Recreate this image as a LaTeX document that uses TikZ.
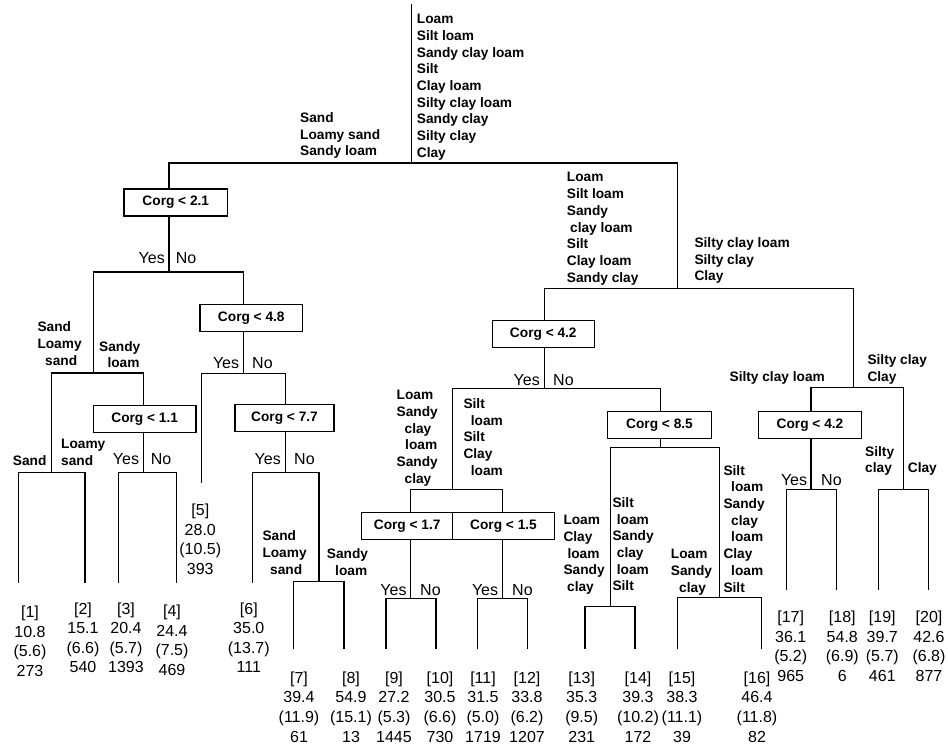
\documentclass[tikz,border=0pt]{standalone}
\usepackage{fontspec}
\setmainfont{Liberation Sans}
\begin{document}
\begin{tikzpicture}[x=1pt,y=-1pt,
  ln/.style={line width=1.3pt},
  cbox/.style={draw,line width=1.3pt,inner sep=0pt,minimum height=27pt,font=\fontsize{13.7}{16.7}\selectfont\bfseries},
  leaf/.style={anchor=north,align=center,inner sep=0pt,font=\fontsize{16}{19.6}\selectfont},
  cls/.style={anchor=north west,align=left,inner sep=0pt,font=\fontsize{13.7}{16.7}\selectfont\bfseries},
  yes/.style={anchor=base east,inner sep=0pt,font=\fontsize{16}{19.6}\selectfont},
  no/.style={anchor=base west,inner sep=0pt,font=\fontsize{16}{19.6}\selectfont}]
\useasboundingbox (0,0) rectangle (948,749);
% boxes
\node[cbox,minimum width=103.7pt] (b21) at (175.8,202.5) {Corg < 2.1};
\node[cbox,minimum width=102.7pt] (b48) at (251.3,317.8) {Corg < 4.8};
\node[cbox,minimum width=102.7pt] (b11) at (144.7,419.3) {Corg < 1.1};
\node[cbox,minimum width=99pt] (b77) at (284.5,418) {Corg < 7.7};
\node[cbox,minimum width=102pt] (b42a) at (543.3,334) {Corg < 4.2};
\node[cbox,minimum width=91pt] (b17) at (407.2,526) {Corg < 1.7};
\node[cbox,minimum width=101.6pt] (b15) at (503.5,526) {Corg < 1.5};
\node[cbox,minimum width=104.4pt] (b85) at (659.5,425) {Corg < 8.5};
\node[cbox,minimum width=103.4pt] (b42b) at (810,425) {Corg < 4.2};
% junctions
\coordinate (RT) at (411.7,4);
\coordinate (RJ) at (411.7,163);
\coordinate (J1) at (169,272);
\coordinate (J2) at (93.3,373);
\coordinate (J3) at (51.7,472.7);
\coordinate (J4) at (143.3,472.7);
\coordinate (J5) at (243.7,373.3);
\coordinate (J6) at (285.7,472.7);
\coordinate (J7) at (319,581.7);
\coordinate (R0) at (677.7,288.3);
\coordinate (K1) at (544.3,388.3);
\coordinate (K2) at (452.7,489.3);
\coordinate (K3) at (410.7,598.3);
\coordinate (K4) at (502.3,598.3);
\coordinate (K5) at (660.7,447.3);
\coordinate (K6) at (610.7,606.7);
\coordinate (K7) at (719.3,597.7);
\coordinate (M1) at (853.3,387.7);
\coordinate (M2) at (811,489.3);
\coordinate (M3) at (903.3,489.3);
% leaf ends
\coordinate (L1) at (18.3,582.7);
\coordinate (L2) at (85,582.7);
\coordinate (L3) at (118.3,582.7);
\coordinate (L4) at (176.7,582.7);
\coordinate (L5) at (201.7,482.7);
\coordinate (L6) at (252.3,582.7);
\coordinate (L7) at (293.3,649.3);
\coordinate (L8) at (344,649.3);
\coordinate (L9) at (386,649.3);
\coordinate (L10) at (436,649.3);
\coordinate (L11) at (477.3,649.3);
\coordinate (L12) at (527.3,649.3);
\coordinate (L13) at (585,649.3);
\coordinate (L14) at (635,649.3);
\coordinate (L15) at (677.3,649.3);
\coordinate (L16) at (761.7,649.3);
\coordinate (L17) at (786.7,590);
\coordinate (L18) at (836.7,590);
\coordinate (L19) at (878.3,590);
\coordinate (L20) at (928.3,590);
% connectors
\draw[ln] (RT) -- (RJ);
\draw[ln] (b21.north -| J1) |- (RJ) -| (R0);
\draw[ln] (b21.south -| J1) -- (J1);
\draw[ln] (J2) |- (J1) -| (b48.north -| J5);
\draw[ln] (J3) |- (J2) -| (b11.north -| J4);
\draw[ln] (L1) |- (J3) -| (L2);
\draw[ln] (b11.south -| J4) -- (J4);
\draw[ln] (L3) |- (J4) -| (L4);
\draw[ln] (b48.south -| J5) -- (J5);
\draw[ln] (L5) |- (J5) -| (b77.north -| J6);
\draw[ln] (b77.south -| J6) -- (J6);
\draw[ln] (L6) |- (J6) -| (J7);
\draw[ln] (L7) |- (J7) -| (L8);
\draw[ln] (b42a.north -| K1) |- (R0) -| (M1);
\draw[ln] (b42a.south -| K1) -- (K1);
\draw[ln] (K2) |- (K1) -| (b85.north -| K5);
\draw[ln] (b17.north -| K3) |- (K2) -| (b15.north -| K4);
\draw[ln] (b17.south -| K3) -- (K3);
\draw[ln] (L9) |- (K3) -| (L10);
\draw[ln] (b15.south -| K4) -- (K4);
\draw[ln] (L11) |- (K4) -| (L12);
\draw[ln] (b85.south -| K5) -- (K5);
\draw[ln] (K6) |- (K5) -| (K7);
\draw[ln] (L13) |- (K6) -| (L14);
\draw[ln] (L15) |- (K7) -| (L16);
\draw[ln] (b42b.north -| M2) |- (M1) -| (M3);
\draw[ln] (b42b.south -| M2) -- (M2);
\draw[ln] (L17) |- (M2) -| (L18);
\draw[ln] (L19) |- (M3) -| (L20);
% class labels
\node[cls] (c1) at (416.7,14) {Loam\\Silt loam\\Sandy clay loam\\Silt\\Clay loam\\Silty clay loam\\Sandy clay\\Silty clay\\Clay};
\node[cls] (c2) at (300,112.3) {Sand\\Loamy sand\\Sandy loam};
\node[cls] (c3) at (566.7,172.3) {Loam\\Silt loam\\Sandy\\\hspace*{3.3pt}clay loam\\Silt\\Clay loam\\Sandy clay};
\node[cls] (c4) at (694.3,237.3) {Silty clay loam\\Silty clay\\Clay};
\node[cls] (c5) at (37.3,321.7) {Sand\\Loamy\\\hspace*{7.7pt}sand};
\node[cls] (c6) at (99,341) {Sandy\\\hspace*{8.3pt}loam};
\node[cls] (c7) at (12.7,455.7) {Sand};
\node[cls] (c8) at (61,439) {Loamy\\sand};
\node[cls] (c9) at (262.3,530.7) {Sand\\Loamy\\\hspace*{7.7pt}sand};
\node[cls] (c10) at (326.7,548.3) {Sandy\\\hspace*{8.3pt}loam};
\node[cls] (c11) at (396.5,390) {Loam\\Sandy\\\hspace*{8pt}clay\\\hspace*{8.5pt}loam\\Sandy\\\hspace*{8pt}clay};
\node[cls] (c12) at (463.3,398.3) {Silt\\\hspace*{7.4pt}loam\\Silt\\Clay\\\hspace*{7.4pt}loam};
\node[cls] (c13) at (563.3,515) {Loam\\Clay\\\hspace*{4pt}loam\\Sandy\\\hspace*{3.7pt}clay};
\node[cls] (c14) at (612.3,497.3) {Silt\\\hspace*{4.4pt}loam\\Sandy\\\hspace*{4.4pt}clay\\\hspace*{4.4pt}loam\\Silt};
\node[cls] (c15) at (670.7,549.3) {Loam\\Sandy\\\hspace*{8.3pt}clay};
\node[cls] (c16) at (723.3,465) {Silt\\\hspace*{7.7pt}loam\\Sandy\\\hspace*{7.7pt}clay\\\hspace*{7.7pt}loam\\Clay\\\hspace*{7.7pt}loam\\Silt};
\node[cls,anchor=north east] (c17) at (825,371) {Silty clay loam};
\node[cls] (c18) at (867.3,354.3) {Silty clay\\Clay};
\node[cls] (c19) at (865,446) {Silty\\clay};
\node[cls] (c20) at (907.7,462.7) {Clay};
% yes / no
\node[yes] (y1) at (165,263.7) {Yes};   \node[no] (n1) at (175.7,263.7) {No};
\node[yes] (y2) at (239.3,368.7) {Yes}; \node[no] (n2) at (252,368.7) {No};
\node[yes] (y3) at (139.3,464.7) {Yes}; \node[no] (n3) at (150.7,464.7) {No};
\node[yes] (y4) at (281,464.7) {Yes};   \node[no] (n4) at (294,464.7) {No};
\node[yes] (y5) at (540,385) {Yes};     \node[no] (n5) at (553,385) {No};
\node[yes] (y6) at (406.7,595) {Yes};   \node[no] (n6) at (420,595) {No};
\node[yes] (y7) at (498.3,595) {Yes};   \node[no] (n7) at (512,595) {No};
\node[yes] (y8) at (807.3,485.7) {Yes}; \node[no] (n8) at (821,485.7) {No};
% leaves
\node[leaf] (t1) at (30,605.7) {[1]\\10.8\\(5.6)\\273};
\node[leaf] (t2) at (83,602.3) {[2]\\15.1\\(6.6)\\540};
\node[leaf] (t3) at (126,602.3) {[3]\\20.4\\(5.7)\\1393};
\node[leaf] (t4) at (172,604.7) {[4]\\24.4\\(7.5)\\469};
\node[leaf] (t5) at (200.3,504) {[5]\\28.0\\(10.5)\\393};
\node[leaf] (t6) at (248.8,602.3) {[6]\\35.0\\(13.7)\\111};
\node[leaf] (t7) at (299,671.5) {[7]\\39.4\\(11.9)\\61};
\node[leaf] (t8) at (351,671.5) {[8]\\54.9\\(15.1)\\13};
\node[leaf] (t9) at (394,671.5) {[9]\\27.2\\(5.3)\\1445};
\node[leaf] (t10) at (440,671.5) {[10]\\30.5\\(6.6)\\730};
\node[leaf] (t11) at (483,671.5) {[11]\\31.5\\(5.0)\\1719};
\node[leaf] (t12) at (527,671.5) {[12]\\33.8\\(6.2)\\1207};
\node[leaf] (t13) at (581.7,671.5) {[13]\\35.3\\(9.5)\\231};
\node[leaf] (t14) at (638,671.5) {[14]\\39.3\\(10.2)\\172};
\node[leaf] (t15) at (682,671.5) {[15]\\38.3\\(11.1)\\39};
\node[leaf] (t16) at (757,671.5) {[16]\\46.4\\(11.8)\\82};
\node[leaf] (t17) at (790.7,610.7) {[17]\\36.1\\(5.2)\\965};
\node[leaf] (t18) at (842.3,610.7) {[18]\\54.8\\(6.9)\\6};
\node[leaf] (t19) at (882.3,610.7) {[19]\\39.7\\(5.7)\\461};
\node[leaf] (t20) at (929,610.7) {[20]\\42.6\\(6.8)\\877};
\end{tikzpicture}
\end{document}
